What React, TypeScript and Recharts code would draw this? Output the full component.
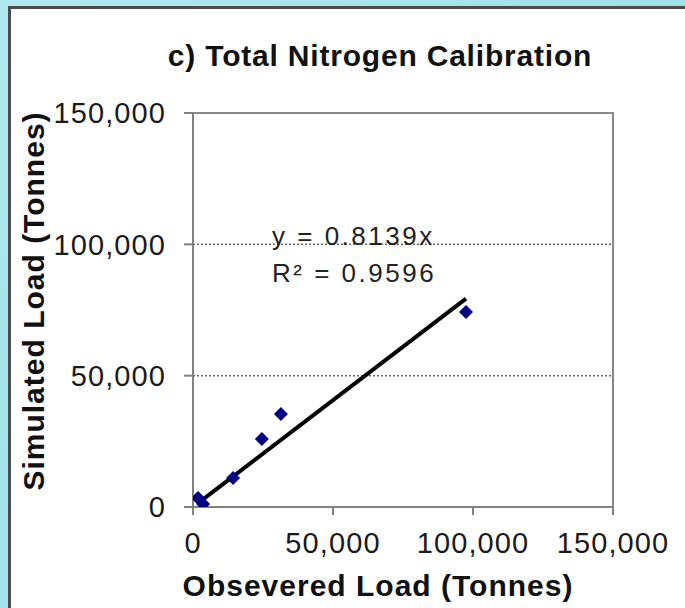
import React from "react";
import {
  ScatterChart,
  Scatter,
  XAxis,
  YAxis,
  CartesianGrid,
  ReferenceLine,
  ReferenceArea,
} from "recharts";

// observed vs simulated total nitrogen loads (tonnes)
const observedLoad = [1800, 3600, 14300, 24600, 31400, 97500];
const simulatedLoad = [3400, 1100, 11000, 25900, 35400, 74200];
const axisTicks = [0, 50000, 100000, 150000];
const trendSlope = 0.8139;
const rSquared = 0.9596;

const points = observedLoad.map((x, i) => ({ x, y: simulatedLoad[i] }));
const xMin = Math.min(...observedLoad);
const xMax = Math.max(...observedLoad);

const FONT = '"Liberation Sans", Arial, sans-serif';
const fmt = (v: number) => v.toLocaleString("en-US");

const Diamond = (props: any) => {
  const { cx, cy } = props;
  const r = 7;
  return (
    <polygon
      points={`${cx},${cy - r} ${cx + r},${cy} ${cx},${cy + r} ${cx - r},${cy}`}
      fill="#000080"
    />
  );
};

const tickStyle = { fontSize: 29, fill: "#1a1a1a", fontFamily: FONT, letterSpacing: 1.1 };

export default function App() {
  return (
    <div
      style={{
        position: "absolute",
        left: 0,
        top: 0,
        width: 685,
        height: 608,
        overflow: "hidden",
        background: "linear-gradient(135deg, #b0e7ef 0%, #a2e1ea 50%, #8fd9e5 100%)",
      }}
    >
      <div
        style={{
          position: "absolute",
          left: 8,
          top: 6,
          width: 680,
          height: 605,
          background: "#fff",
          borderLeft: "3px solid #4a4a4a",
          borderTop: "3px solid #4a4a4a",
        }}
      />
      <div style={{ position: "absolute", left: 0, top: 0 }}>
        <ScatterChart
          width={685}
          height={608}
          margin={{ top: 113, right: 72, bottom: 0, left: 0 }}
        >
          <CartesianGrid
            horizontal
            vertical={false}
            stroke="#666"
            strokeDasharray="2 2"
            strokeWidth={1.5}
          />
          <ReferenceArea
            x1={0}
            x2={150000}
            y1={0}
            y2={150000}
            fill="none"
            stroke="#888"
            strokeWidth={2}
          />
          <XAxis
            type="number"
            dataKey="x"
            domain={[0, 150000]}
            ticks={axisTicks}
            interval={0}
            tickFormatter={fmt}
            tickSize={8}
            tickMargin={17}
            stroke="#808080"
            strokeWidth={2}
            tick={tickStyle}
            height={101}
            allowDataOverflow
          />
          <YAxis
            type="number"
            dataKey="y"
            domain={[0, 150000]}
            ticks={axisTicks}
            interval={0}
            tickFormatter={fmt}
            tickSize={9}
            tickMargin={18}
            stroke="#808080"
            strokeWidth={2}
            tick={tickStyle}
            width={193}
            allowDataOverflow
          />
          <Scatter data={points} shape={Diamond} isAnimationActive={false} />
          <ReferenceLine
            segment={[
              { x: xMin, y: trendSlope * xMin },
              { x: xMax, y: trendSlope * xMax },
            ]}
            stroke="#000"
            strokeWidth={4}
            ifOverflow="visible"
          />
        </ScatterChart>
      </div>
      <svg
        width={685}
        height={608}
        style={{ position: "absolute", left: 0, top: 0, pointerEvents: "none" }}
        fontFamily={FONT}
      >
        <text x={380} y={66} textAnchor="middle" fontSize={30} fontWeight="bold" letterSpacing={0.8} fill="#111">
          c) Total Nitrogen Calibration
        </text>
        <text
          x={44}
          y={301}
          textAnchor="middle"
          fontSize={30}
          fontWeight="bold"
          letterSpacing={1}
          fill="#111"
          transform="rotate(-90 44 301)"
        >
          Simulated Load (Tonnes)
        </text>
        <text x={378} y={596} textAnchor="middle" fontSize={30} fontWeight="bold" letterSpacing={1} fill="#111">
          Obsevered Load (Tonnes)
        </text>
        <text x={272} y={245} fontSize={26} letterSpacing={2.5} fill="#222">
          {`y = ${trendSlope}x`}
        </text>
        <text x={272} y={282} fontSize={26} letterSpacing={2.5} fill="#222">
          {`R² = ${rSquared}`}
        </text>
      </svg>
    </div>
  );
}
